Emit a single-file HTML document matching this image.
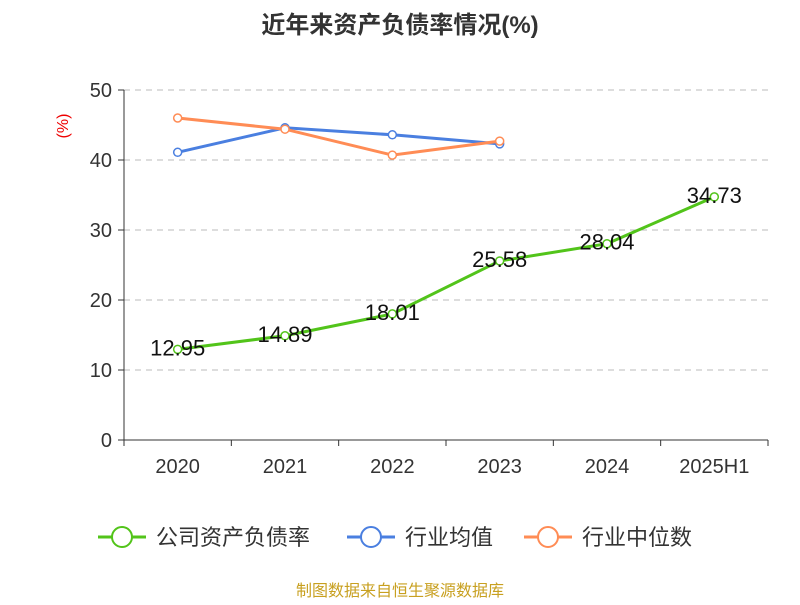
<!DOCTYPE html>
<html><head><meta charset="utf-8"><style>
body{margin:0;background:#fff;font-family:"Liberation Sans","Noto Sans CJK SC",sans-serif;}
</style></head><body>
<svg width="800" height="600" xmlns="http://www.w3.org/2000/svg" id="chart">
<text x="400" y="33" text-anchor="middle" font-size="24" font-weight="bold" fill="#333" font-family="Liberation Sans,Noto Sans CJK SC,sans-serif">近年来资产负债率情况(%)</text>
<text x="68" y="126" text-anchor="middle" font-size="16" fill="#e00" transform="rotate(-90 68 126)" font-family="Liberation Sans,sans-serif">(%)</text>
<g id="grid"></g><g id="axes"></g><g id="series"></g>
<g font-size="22" font-family="Liberation Sans,Noto Sans CJK SC,sans-serif" fill="#333">
<g><line x1="98" y1="537" x2="146" y2="537" stroke="#52c41a" stroke-width="3"/><circle cx="122" cy="537" r="10" fill="#fff" stroke="#52c41a" stroke-width="2"/><text x="156" y="545">公司资产负债率</text></g>
<g><line x1="347" y1="537" x2="395" y2="537" stroke="#4a7fe0" stroke-width="3"/><circle cx="371" cy="537" r="10" fill="#fff" stroke="#4a7fe0" stroke-width="2"/><text x="405" y="545">行业均值</text></g>
<g><line x1="524" y1="537" x2="572" y2="537" stroke="#ff8c55" stroke-width="3"/><circle cx="548" cy="537" r="10" fill="#fff" stroke="#ff8c55" stroke-width="2"/><text x="582" y="545">行业中位数</text></g>
</g>
<text x="400" y="596" text-anchor="middle" font-size="16" fill="#c8a020" font-family="Liberation Sans,Noto Sans CJK SC,sans-serif">制图数据来自恒生聚源数据库</text>
</svg>
<script>
const categories=["2020","2021","2022","2023","2024","2025H1"];
const companyValues=[12.95,14.89,18.01,25.58,28.04,34.73];
const avgValues=[41.1,44.6,43.6,42.3];
const medianValues=[46.0,44.4,40.7,42.7];
const yTicks=[0,10,20,30,40,50];
const NS="http://www.w3.org/2000/svg";
const x0=124,x1=768,yb=440,yt=90,ymax=50;
const bw=(x1-x0)/categories.length;
const xs=i=>x0+bw*(i+0.5);
const ys=v=>yb-(v/ymax)*(yb-yt);
function mk(t,a,p){const e=document.createElementNS(NS,t);for(const k in a)e.setAttribute(k,a[k]);p.appendChild(e);return e;}
const grid=document.getElementById('grid'),axes=document.getElementById('axes'),ser=document.getElementById('series');
yTicks.forEach(v=>{
 if(v>0){const l=mk('line',{x1:x0,x2:x1,y1:ys(v),y2:ys(v),stroke:'#bbb','stroke-dasharray':'6,5'},grid);
 }
 mk('line',{x1:x0-6,x2:x0,y1:ys(v),y2:ys(v),stroke:'#333'},axes);
 const t=mk('text',{x:x0-12,y:ys(v)+7,'text-anchor':'end','font-size':20,fill:'#333'},axes);t.textContent=v;
 
});
mk('line',{x1:x0,x2:x0,y1:yt,y2:yb,stroke:'#333'},axes);
mk('line',{x1:x0,x2:x1,y1:yb,y2:yb,stroke:'#333'},axes);
for(let i=0;i<=categories.length;i++)mk('line',{x1:x0+bw*i,x2:x0+bw*i,y1:yb,y2:yb+6,stroke:'#333'},axes);
categories.forEach((c,i)=>{const t=mk('text',{x:xs(i),y:yb+33,'text-anchor':'middle','font-size':20,fill:'#333'},axes);t.textContent=c;
 });
function line(vals,color,name,labels){
 const g=mk('g',{},ser);
 mk('polyline',{points:vals.map((v,i)=>xs(i)+','+ys(v)).join(' '),fill:'none',stroke:color,'stroke-width':3},g);
 vals.forEach((v,i)=>{const c=mk('circle',{cx:xs(i),cy:ys(v),r:4,fill:'#fff',stroke:color,'stroke-width':1.5},g);
  
  if(labels){const t=mk('text',{x:xs(i),y:ys(v)+6,'text-anchor':'middle','font-size':22,fill:'#111'},g);t.textContent=v.toFixed(2);
   }});
}
line(avgValues,'#4a7fe0','industry-avg-line',false);
line(medianValues,'#ff8c55','industry-median-line',false);
line(companyValues,'#52c41a','company-line',true);
</script>
</body></html>
